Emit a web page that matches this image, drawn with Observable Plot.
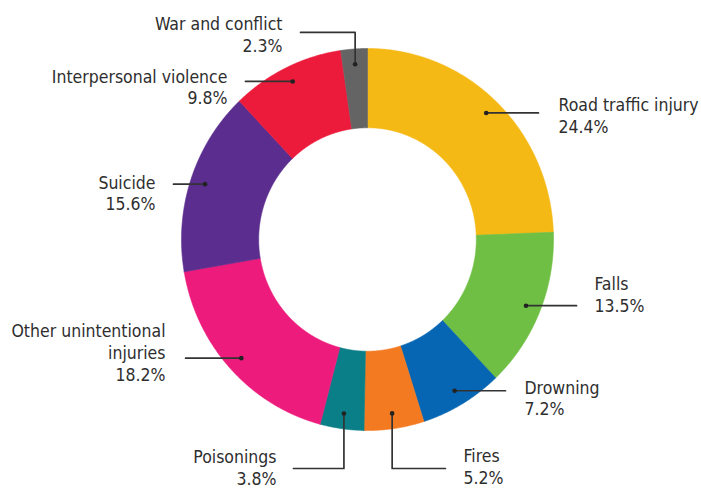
<!DOCTYPE html>
<html><head><meta charset="utf-8">
<script src="https://cdn.jsdelivr.net/npm/d3@7"></script>
<script src="https://cdn.jsdelivr.net/npm/@observablehq/plot@0.6"></script>
<style>body{margin:0;background:#fff}</style>
</head><body><div id="chart"></div>
<script>
// ---- data ----
const categories = ["Road traffic injury","Falls","Drowning","Fires","Poisonings","Other unintentional injuries","Suicide","Interpersonal violence","War and conflict"];
const shares = [24.4, 13.5, 7.2, 5.2, 3.8, 18.2, 15.6, 9.8, 2.3];
const labelTexts = ["Road traffic injury","Falls","Drowning","Fires","Poisonings","Other unintentional\ninjuries","Suicide","Interpersonal violence","War and conflict"];
const valueLabels = ["24.4%","13.5%","7.2%","5.2%","3.8%","18.2%","15.6%","9.8%","2.3%"];
const colors = ["#f5b915","#6fbf44","#0766b3","#f37a21","#0b7f87","#ec1b7c","#5a2d8f","#ec1b3b","#646464"];

// ---- layout (label placement, in the chart's normalized units) ----
const innerRatio = 0.585, dotRadius = 0.92;
const labelLayout = {
  "Road traffic injury":          {endX: 0.919,  tx: 1.027,  ty: 0.654,  anchor: "start"},
  "Falls":                        {endX: 1.124,  tx: 1.220,  ty: -0.285, anchor: "start"},
  "Drowning":                     {endX: 0.742,  tx: 0.844,  ty: -0.827, anchor: "start"},
  "Fires":                        {elbowY: -1.199, endX: 0.419, tx: 0.516, ty: -1.185, anchor: "start"},
  "Poisonings":                   {elbowY: -1.199, endX: -0.398, tx: -0.489, ty: -1.19, anchor: "end"},
  "Other unintentional injuries": {endX: -0.978, tx: -1.086, ty: -0.589, anchor: "end"},
  "Suicide":                      {endX: -1.043, tx: -1.140, ty: 0.246,  anchor: "end"},
  "Interpersonal violence":       {endX: -0.656, tx: -0.753, ty: 0.801,  anchor: "end"},
  "War and conflict":             {elbowY: 1.084, endX: -0.360, tx: -0.457, ty: 1.075, anchor: "end"}
};

// ---- derived geometry ----
const arcs = d3.pie().sort(null).value(d => d)(shares);
const pt = (a, r) => ({x: r * Math.sin(a), y: r * Math.cos(a)});
const slicePts = [];
arcs.forEach((a, i) => {
  const name = categories[i];
  const n = Math.max(4, Math.ceil((a.endAngle - a.startAngle) / 0.005));
  const ring = [];
  for (let k = 0; k <= n; k++) ring.push(pt(a.startAngle + (a.endAngle - a.startAngle) * k / n, 1));
  for (let k = n; k >= 0; k--) ring.push(pt(a.startAngle + (a.endAngle - a.startAngle) * k / n, innerRatio));
  ring.push(ring[0]);
  ring.forEach(p => slicePts.push({...p, name}));
});
const dots = arcs.map((a, i) => ({...pt((a.startAngle + a.endAngle) / 2, dotRadius), name: categories[i]}));
const leaders = [];
dots.forEach(d => {
  const L = labelLayout[d.name];
  leaders.push({x: d.x, y: d.y, name: d.name});
  if (L.elbowY !== undefined) {
    leaders.push({x: d.x, y: L.elbowY, name: d.name});
    leaders.push({x: L.endX, y: L.elbowY, name: d.name});
  } else {
    leaders.push({x: L.endX, y: d.y, name: d.name});
  }
});
const labels = categories.map((c, i) => ({x: labelLayout[c].tx, y: labelLayout[c].ty, anchor: labelLayout[c].anchor, text: labelTexts[i] + "\n" + valueLabels[i]}));

const textOpts = {x: "x", y: "y", text: "text", fontSize: 17.5, lineHeight: 1.25, fill: "#2e2e2e"};
const chart = Plot.plot({
  width: 701, height: 491,
  marginLeft: 181, marginRight: 148, marginTop: 48, marginBottom: 61,
  x: {domain: [-1, 1], axis: null},
  y: {domain: [-1, 1], axis: null},
  color: {domain: categories, range: colors},
  style: {fontFamily: "'DejaVu Sans Condensed', 'Liberation Sans Narrow', sans-serif", background: "#fff", overflow: "visible"},
  marks: [
    Plot.line(slicePts, {x: "x", y: "y", z: "name", fill: "name", stroke: "name", strokeWidth: 0.6, curve: "linear"}),
    Plot.line(leaders, {x: "x", y: "y", z: "name", stroke: "#333", strokeWidth: 1.7}),
    Plot.dot(dots, {x: "x", y: "y", r: 2.3, fill: "#222"}),
    Plot.text(labels.filter(d => d.anchor === "start"), {...textOpts, textAnchor: "start"}),
    Plot.text(labels.filter(d => d.anchor === "end"), {...textOpts, textAnchor: "end"})
  ]
});
document.getElementById("chart").appendChild(chart);
</script>
</body></html>
